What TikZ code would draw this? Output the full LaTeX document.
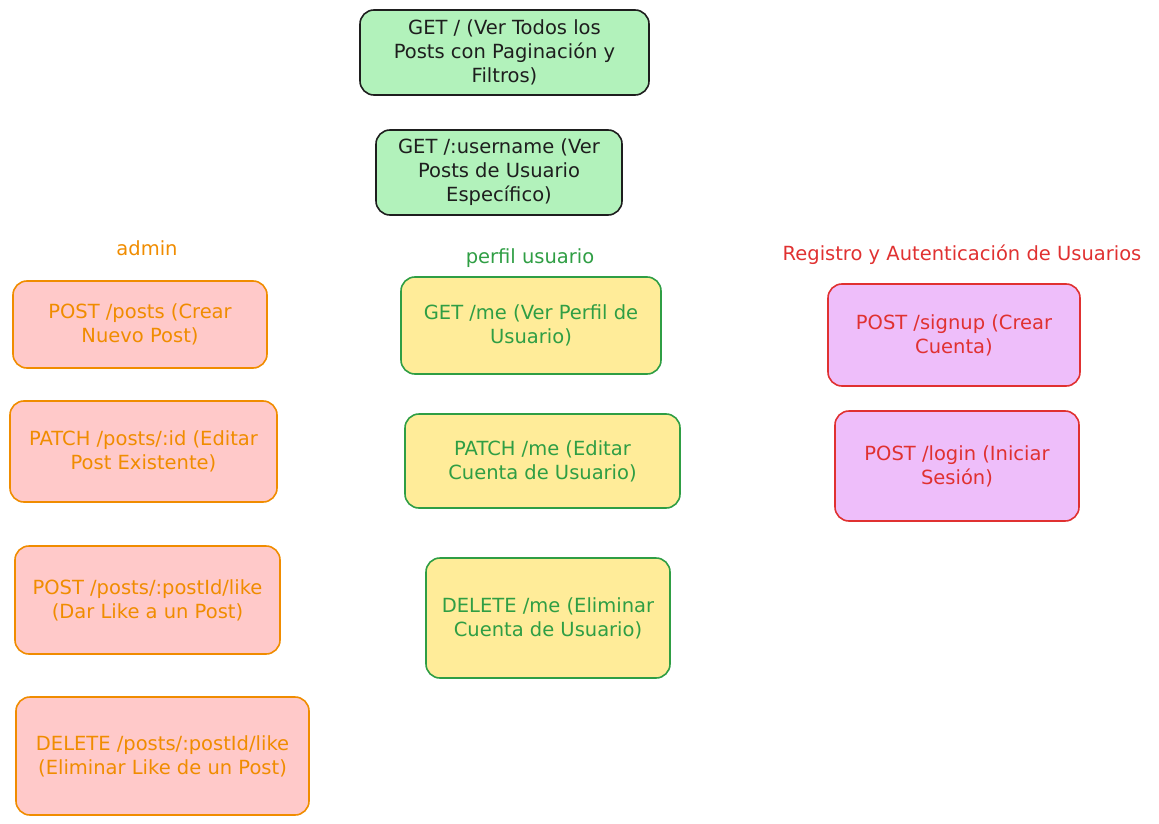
\documentclass[tikz,border=0pt]{standalone}
\usepackage{fontspec}
\setmainfont{DejaVu Sans}
\usepackage{xcolor}

\definecolor{inkblack}{HTML}{1E1E1E}
\definecolor{inkorange}{HTML}{F08C00}
\definecolor{inkgreen}{HTML}{2F9E44}
\definecolor{inkred}{HTML}{E03131}
\definecolor{fillmint}{HTML}{B2F2BB}
\definecolor{fillpink}{HTML}{FFC9C9}
\definecolor{fillyellow}{HTML}{FFEC99}
\definecolor{fillviolet}{HTML}{EEBEFA}

\begin{document}
\begin{tikzpicture}[x=1pt, y=-1pt]
% Define styles
\tikzstyle{endpoint} = [rectangle, rounded corners=14pt, line width=1.6pt, align=center, inner sep=0pt, font=\fontsize{19.5}{24}\selectfont]
\tikzstyle{public} = [endpoint, draw=inkblack, fill=fillmint, text=inkblack]
\tikzstyle{admin} = [endpoint, draw=inkorange, fill=fillpink, text=inkorange]
\tikzstyle{profile} = [endpoint, draw=inkgreen, fill=fillyellow, text=inkgreen]
\tikzstyle{auth} = [endpoint, draw=inkred, fill=fillviolet, text=inkred]
\tikzstyle{group} = [font=\fontsize{19.5}{24}\selectfont]

\useasboundingbox (0,0) rectangle (1159,824);

% Public routes
\node (all) [public, minimum width=289pt, minimum height=85pt] at (504.5,52.5) {GET / (Ver Todos los\\Posts con Paginación y\\Filtros)};
\node (byuser) [public, minimum width=246pt, minimum height=85pt] at (499,172.5) {GET /:username (Ver\\Posts de Usuario\\Específico)};

% Group labels
\node (adminlabel) [group, text=inkorange] at (147,248) {admin};
\node (profilelabel) [group, text=inkgreen] at (530,258) {perfil usuario};
\node (authlabel) [group, text=inkred] at (962,255) {Registro y Autenticación de Usuarios};

% Admin routes
\node (create) [admin, minimum width=254pt, minimum height=87pt] at (140,324.5) {POST /posts (Crear\\Nuevo Post)};
\node (edit) [admin, minimum width=267pt, minimum height=101pt] at (143.5,451.5) {PATCH /posts/:id (Editar\\Post Existente)};
\node (like) [admin, minimum width=265pt, minimum height=108pt] at (147.5,600) {POST /posts/:postId/like\\(Dar Like a un Post)};
\node (unlike) [admin, minimum width=293pt, minimum height=118pt] at (162.5,756) {DELETE /posts/:postId/like\\(Eliminar Like de un Post)};

% Profile routes
\node (getme) [profile, minimum width=260pt, minimum height=97pt] at (531,325.5) {GET /me (Ver Perfil de\\Usuario)};
\node (patchme) [profile, minimum width=275pt, minimum height=94pt] at (542.5,461) {PATCH /me (Editar\\Cuenta de Usuario)};
\node (deleteme) [profile, minimum width=244pt, minimum height=120pt] at (548,618) {DELETE /me (Eliminar\\Cuenta de Usuario)};

% Auth routes
\node (signup) [auth, minimum width=252pt, minimum height=102pt] at (954,335) {POST /signup (Crear\\Cuenta)};
\node (login) [auth, minimum width=244pt, minimum height=110pt] at (957,466) {POST /login (Iniciar\\Sesión)};
\end{tikzpicture}
\end{document}
